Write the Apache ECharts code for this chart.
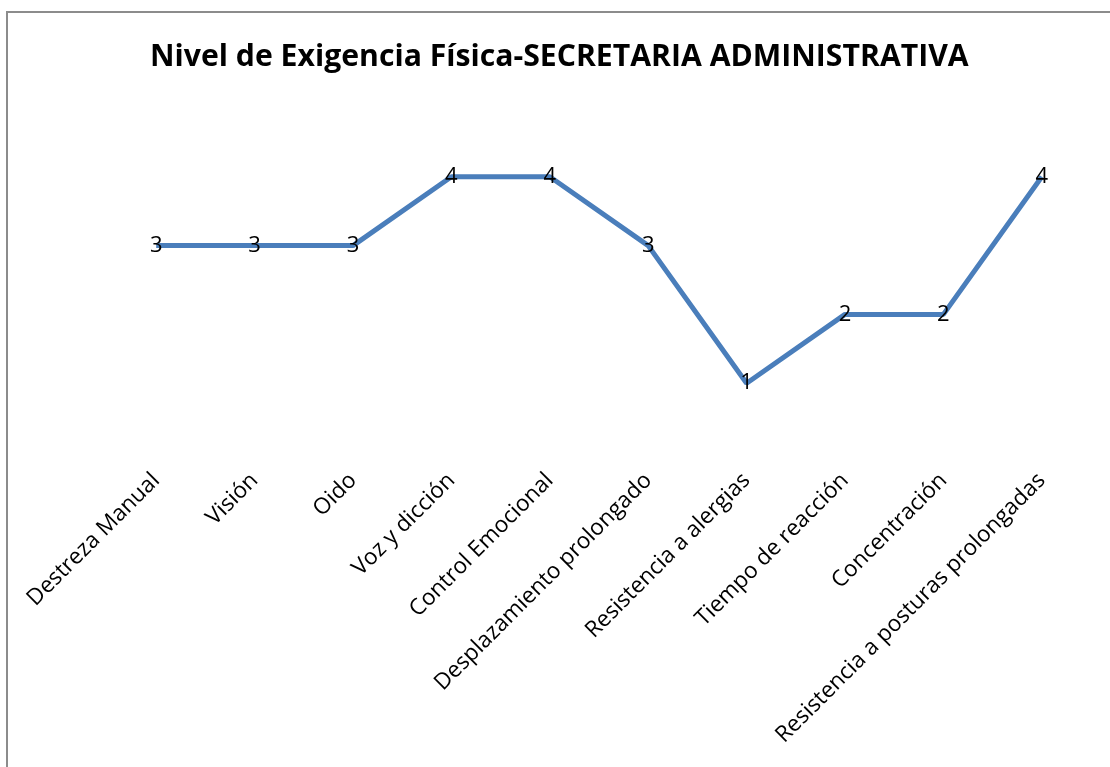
<!DOCTYPE html>
<html>
<head>
<meta charset="utf-8">
<script src="https://cdn.jsdelivr.net/npm/echarts@6/dist/echarts.min.js"></script>
<style>
  html, body { margin: 0; padding: 0; background: #fff; }
  #frame { position: absolute; left: 6px; top: 11px; width: 1200px; height: 900px;
           border-left: 2px solid #8c8c8c; border-top: 2px solid #8c8c8c; }
  #chart { position: absolute; left: 0; top: 0; width: 1110px; height: 767px; }
</style>
</head>
<body>
<div id="frame"></div>
<div id="chart"></div>
<script>
var categories = ['Destreza Manual', 'Visión', 'Oido', 'Voz y dicción', 'Control Emocional',
    'Desplazamiento prolongado', 'Resistencia a alergias', 'Tiempo de reacción', 'Concentración',
    'Resistencia a posturas prolongadas'];
var niveles = [3, 3, 3, 4, 4, 3, 1, 2, 2, 4];

var chart = echarts.init(document.getElementById('chart'));
var option = {
    backgroundColor: 'transparent',
    title: {
        text: 'Nivel de Exigencia Física-SECRETARIA ADMINISTRATIVA',
        left: 145,
        top: 37,
        textStyle: { fontFamily: 'Open Sans', fontWeight: 'bold', fontSize: 30.2, color: '#000' }
    },
    grid: { left: 107, right: 19, top: 108, bottom: 315 },
    xAxis: {
        type: 'category',
        data: categories,
        boundaryGap: true,
        axisLine: { show: false },
        axisTick: { show: false },
        axisLabel: {
            rotate: 45,
            interval: 0,
            margin: 25,
            fontFamily: 'Open Sans',
            fontSize: 22.5,
            color: '#000'
        }
    },
    yAxis: {
        type: 'value',
        min: 0,
        max: 5,
        interval: 1,
        show: false
    },
    series: [{
        type: 'line',
        data: niveles,
        symbol: 'circle',
        symbolSize: 1,
        showSymbol: true,
        itemStyle: { color: 'rgba(0,0,0,0)' },
        lineStyle: { color: '#4a7ebb', width: 5 },
        label: {
            show: true,
            position: 'inside',
            fontFamily: 'Open Sans',
            fontSize: 22,
            color: '#000'
        }
    }]
};
chart.setOption(option);
</script>
</body>
</html>
